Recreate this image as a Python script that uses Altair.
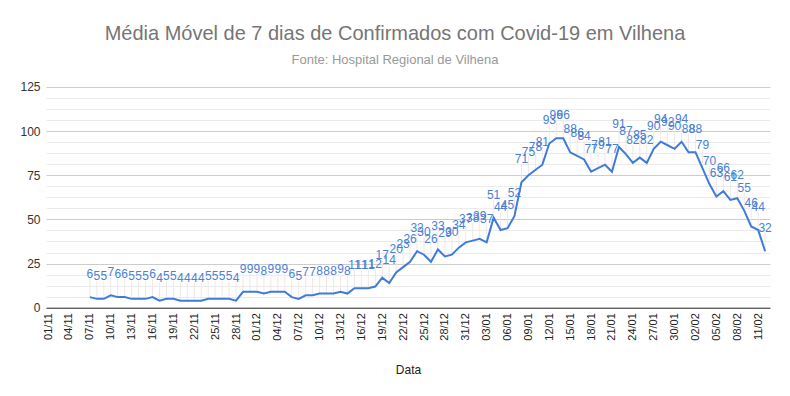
import altair as alt
import pandas as pd

START = "2020-11-07"
AXIS_ORIGIN = "2020-11-01"

VALUES = [
    6, 5, 5, 7, 6, 6, 5, 5, 5, 6, 4, 5, 5, 4, 4, 4, 4, 5, 5, 5, 5, 4,
    9, 9, 9, 8, 9, 9, 9,
    6, 5, 7, 7, 8, 8, 8, 9, 8,
    11, 11, 11, 12,
    17, 14, 20, 23, 26, 32, 30, 26, 33, 29, 30, 34, 37, 38, 39, 37,
    51, 44, 45, 52, 71, 75, 78, 81, 93, 96,
    96, 88, 86, 84, 77, 79, 81, 77, 91, 87,
    82, 85, 82, 90, 94, 92, 90, 94, 88, 88,
    79, 70, 63, 66, 61, 62, 55, 46, 44, 32,
]

TICK_LABELS = [
    "01/11", "04/11", "07/11", "10/11", "13/11", "16/11", "19/11", "22/11",
    "25/11", "28/11", "01/12", "04/12", "07/12", "10/12", "13/12", "16/12",
    "19/12", "22/12", "25/12", "28/12", "31/12", "03/01", "06/01", "09/01",
    "12/01", "15/01", "18/01", "21/01", "24/01", "27/01", "30/01", "02/02",
    "05/02", "08/02", "11/02",
]

dates = pd.date_range(START, periods=len(VALUES), freq="D")
day = (dates - pd.Timestamp(AXIS_ORIGIN)).days
df = pd.DataFrame({
    "day": day,
    "v": VALUES,
    "label": [str(v) for v in VALUES],
    "date": dates.strftime("%d/%m"),
})

FONT = "Liberation Sans"
tick_vals = [3 * i for i in range(len(TICK_LABELS))]
label_expr = "[" + ",".join("'" + t + "'" for t in TICK_LABELS) + "][datum.value/3]"

minor = [6.25 * i for i in range(21)]

x = alt.X(
    "day:Q",
    scale=alt.Scale(domain=[-0.3, 103.7], nice=False, zero=False),
    axis=alt.Axis(
        values=tick_vals,
        labelExpr=label_expr,
        labelAngle=-90,
        labelFont=FONT,
        labelFontSize=11,
        labelColor="#222222",
        labelPadding=5,
        grid=False,
        ticks=False,
        domain=True,
        domainColor="#333333",
        domainWidth=1,
        title="Data",
        titleFont=FONT,
        titleFontSize=12,
        titleFontWeight="normal",
        titleColor="#222222",
        titlePadding=24,
    ),
)

y = alt.Y(
    "v:Q",
    scale=alt.Scale(domain=[0, 125], nice=False),
    axis=alt.Axis(
        values=minor,
        labelExpr="datum.value % 25 == 0 ? datum.label : ''",
        gridColor={"condition": {"test": "datum.value % 25 == 0", "value": "#cccccc"}, "value": "#ebebeb"},
        labelFont=FONT,
        labelFontSize=12,
        labelColor="#333333",
        labelPadding=6,
        domain=False,
        ticks=False,
        title=None,
    ),
)

base = alt.Chart(df)

leaders = base.mark_rule(color="#f2e6e6", strokeWidth=1, y2Offset=-18).encode(
    x=x, y=y, y2="v:Q"
)

line = base.mark_line(color="#3f7bdb", strokeWidth=2).encode(x=x, y=y)

labels = base.mark_text(
    dy=-23, baseline="middle", fontSize=12, font=FONT, color="#4a80d4"
).encode(x=x, y=y, text="label:N")

chart = alt.layer(leaders, line, labels).properties(
    width=724,
    height=220.7,
    autosize=alt.AutoSizeParams(type="none"),
    padding={"left": 38, "top": 79, "right": 12, "bottom": 80},
    title=alt.TitleParams(
        text="Média Móvel de 7 dias de Confirmados com Covid-19 em Vilhena",
        subtitle="Fonte: Hospital Regional de Vilhena",
        font=FONT,
        fontSize=20,
        fontWeight="normal",
        color="#757575",
        subtitleFont=FONT,
        subtitleFontSize=13,
        subtitleColor="#999999",
        subtitlePadding=10,
        anchor="middle",
        dx=-13,
        offset=14,
    ),
).configure_view(stroke=None)

chart.save("out.html", embed_options={"renderer": "svg", "actions": False})
